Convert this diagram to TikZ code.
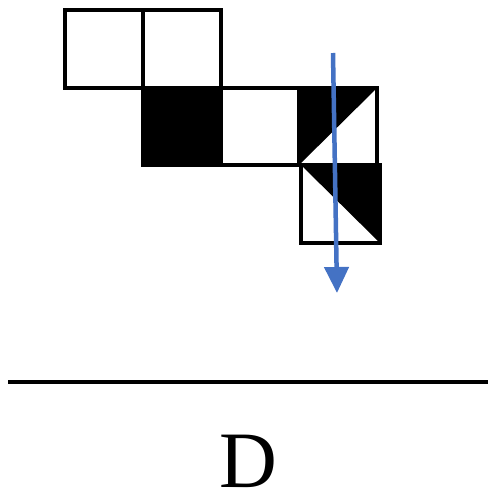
\documentclass[tikz,border=0pt]{standalone}
\usepackage{fontspec}
\setmainfont{Liberation Serif}
\usetikzlibrary{arrows.meta}
\definecolor{arrowblue}{RGB}{68,114,196}
\begin{document}
\begin{tikzpicture}[x=1pt,y=-1pt,
  cell/.style={draw=black,line width=3.5pt},
  arr/.style={draw=arrowblue,line width=4.5pt,-{Triangle[width=24pt,length=26pt]}}]
\useasboundingbox (0,0) rectangle (488,498);
% top row
\draw[cell] (65,10) rectangle (143,88);
\draw[cell] (143,10) rectangle (221,88);
% middle row
\fill[black] (143,88) rectangle (221,165);
\draw[cell] (143,88) rectangle (221,165);
\draw[cell] (221,88) rectangle (299,165);
\fill[black] (299,88) -- (377,88) -- (299,165) -- cycle;
\draw[cell] (299,88) rectangle (377,165);
% bottom
\fill[black] (301,165) -- (380,165) -- (380,243) -- cycle;
\draw[cell,line width=4pt] (301,165) rectangle (380,243);
% arrow
\coordinate (as) at (333,53);
\coordinate (ae) at (337,293);
\draw[arr] (as) -- (ae);
% baseline
\draw[line width=3.5pt] (8,382) -- (488,382);
\node[font=\fontsize{80}{88}\selectfont,anchor=base,inner sep=0pt] (lab) at (248,487) {D};
\end{tikzpicture}
\end{document}
